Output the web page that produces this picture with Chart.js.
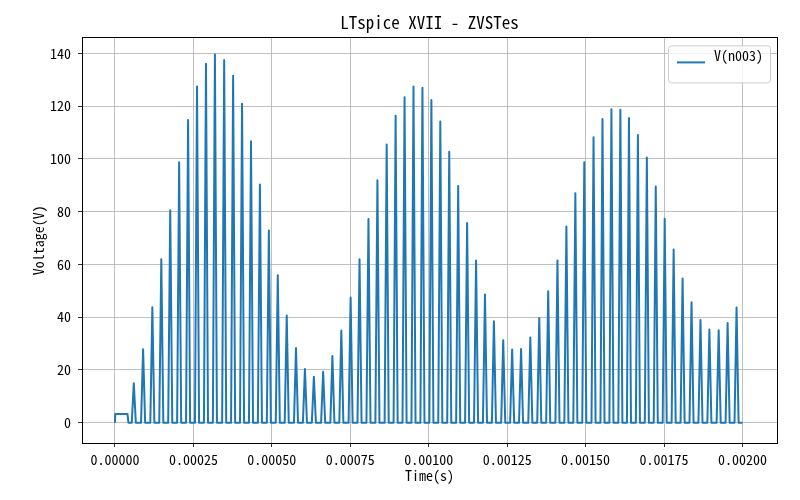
<!DOCTYPE html>
<html>
<head>
<meta charset="utf-8">
<script src="https://cdn.jsdelivr.net/npm/chart.js@4"></script>
<style>
  html, body { margin: 0; padding: 0; background: #ffffff; }
  #wrap { width: 800px; height: 500px; }
</style>
</head>
<body>
<div id="wrap"><canvas id="ltChart" width="800" height="500"></canvas></div>
<script>
// =========================================================================
// 1. DATA
// =========================================================================
const chartTitle = "LTspice XVII - ZVSTes";
const seriesLabel = "V(n003)";

// startup step: level (V) and where it ends (µs)
const stepLevel = 3.3;
const stepEndUs = 40;

// half of the pulse base width, µs
const pulseHalfUs = 6.5;

// time of each pulse peak, µs
const peakTimesUs = [
    60.1, 89.7, 119.2, 147.7, 176.2, 204.6, 233.1, 261.6, 290.1, 318.6, 348.1,
    376.6, 405.1, 433.6, 462.0, 490.5, 519.0, 547.5, 577.0, 605.5, 634.0,
    663.5, 693.0, 721.5, 751.1, 779.5, 808.0, 836.5, 866.0, 894.5, 923.0,
    951.5, 980.0, 1008.5, 1036.9, 1065.4, 1093.9, 1122.4, 1150.9, 1179.3, 1207.8,
    1237.4, 1265.9, 1294.3, 1323.8, 1352.3, 1380.8, 1410.3, 1438.8, 1467.3, 1495.8,
    1525.3, 1553.8, 1582.3, 1610.8, 1638.2, 1666.7, 1695.2, 1723.6, 1752.1, 1780.6,
    1809.1, 1837.6, 1866.1, 1894.5, 1924.1, 1952.6, 1981.1
];

// peak voltage of each pulse, V
const peakVolts = [
    14.9, 27.8, 43.7, 61.9, 80.5, 98.7, 114.7, 127.4, 136.0, 139.5, 137.4,
    131.5, 120.9, 106.6, 90.3, 72.8, 55.9, 40.6, 28.3, 20.3, 17.4,
    19.3, 25.3, 34.9, 47.4, 61.9, 77.2, 91.9, 105.4, 116.3, 123.3,
    127.4, 126.9, 122.3, 114.1, 102.7, 89.7, 75.7, 61.5, 48.6, 38.4,
    31.2, 27.7, 27.9, 32.3, 39.7, 49.8, 61.5, 74.3, 86.9, 98.7,
    108.2, 115.1, 118.8, 118.6, 115.5, 109.0, 100.5, 89.5, 77.3, 65.6,
    54.6, 45.6, 38.9, 35.3, 35.0, 37.8, 43.6
];

const endTimeUs = 2000;

const xTicks = [0, 0.00025, 0.0005, 0.00075, 0.001, 0.00125, 0.0015, 0.00175, 0.002];
const yTicks = [0, 20, 40, 60, 80, 100, 120, 140];

// =========================================================================
// 2. BUILD THE POINT TABLE
// =========================================================================
const us = 1e-6;
const points = [];
points.push({ x: 0, y: 0 });
points.push({ x: 1 * us, y: stepLevel });
points.push({ x: stepEndUs * us, y: stepLevel });
points.push({ x: (stepEndUs + 3) * us, y: 0 });
peakTimesUs.forEach((t, i) => {
    points.push({ x: (t - pulseHalfUs) * us, y: 0 });
    points.push({ x: t * us, y: peakVolts[i] });
    points.push({ x: (t + pulseHalfUs) * us, y: 0 });
});
points.push({ x: endTimeUs * us, y: 0 });

// =========================================================================
// 3. CHART
// =========================================================================
const FONT = "'Noto Sans Mono CJK SC', 'Noto Sans CJK SC', 'DejaVu Sans Mono', monospace";
const LINE_BLUE = '#1f77b4';

// box round the plot area (matplotlib spines)
const frame = {
    id: 'frame',
    afterDatasetsDraw(chart) {
        const a = chart.chartArea, ctx = chart.ctx;
        ctx.save();
        ctx.strokeStyle = '#000';
        ctx.lineWidth = 1;
        ctx.strokeRect(Math.round(a.left) + 0.5, Math.round(a.top) + 0.5,
                       Math.round(a.right - a.left), Math.round(a.bottom - a.top));
        ctx.restore();
    }
};

// matplotlib-style legend in the upper right corner
const mplLegend = {
    id: 'mplLegend',
    afterDraw(chart) {
        const a = chart.chartArea, ctx = chart.ctx;
        const ds = chart.data.datasets[0];
        const w = 102, h = 37;
        const x = a.right - 7 - w, y = a.top + 8;
        ctx.save();
        ctx.beginPath();
        ctx.roundRect(x + 0.5, y + 0.5, w, h, 3);
        ctx.fillStyle = 'rgba(255,255,255,0.8)';
        ctx.fill();
        ctx.strokeStyle = '#cccccc';
        ctx.lineWidth = 1;
        ctx.stroke();
        ctx.beginPath();
        ctx.moveTo(x + 9, y + 17);
        ctx.lineTo(x + 37, y + 17);
        ctx.strokeStyle = ds.borderColor;
        ctx.lineWidth = 2;
        ctx.stroke();
        ctx.fillStyle = '#000';
        ctx.font = '14px ' + FONT;
        ctx.textBaseline = 'middle';
        ctx.textAlign = 'left';
        ctx.fillText(ds.label, x + 46, y + 10);
        ctx.restore();
    }
};

const ctx = document.getElementById('ltChart').getContext('2d');
new Chart(ctx, {
    type: 'line',
    data: {
        datasets: [{
            label: seriesLabel,
            data: points,
            borderColor: LINE_BLUE,
            backgroundColor: LINE_BLUE,
            borderWidth: 2,
            borderJoinStyle: 'round',
            pointRadius: 0,
            tension: 0,
            fill: false
        }]
    },
    options: {
        responsive: false,
        animation: false,
        layout: { padding: { left: 0, right: 23, top: 0, bottom: 0 } },
        plugins: {
            legend: { display: false },
            tooltip: { enabled: false },
            title: {
                display: true,
                text: chartTitle,
                fullSize: false,
                color: '#000',
                font: { family: FONT, size: 17, weight: 'normal', lineHeight: 1.2 },
                padding: { top: 12, bottom: 5 }
            }
        },
        scales: {
            x: {
                type: 'linear',
                min: -0.000105,
                max: 0.00211,
                afterFit: s => { s.height = 57; },
                afterBuildTicks: s => { s.ticks = xTicks.map(v => ({ value: v })); },
                grid: { color: '#b0b0b0', lineWidth: 0.8, tickColor: '#000', tickLength: 4 },
                border: { color: '#000', width: 1 },
                ticks: {
                    color: '#000', padding: 4, maxRotation: 0, autoSkip: false,
                    font: { family: FONT, size: 14 },
                    callback: v => v.toFixed(5)
                },
                title: {
                    display: true, text: 'Time(s)', color: '#000',
                    font: { family: FONT, size: 14 },
                    padding: { top: 0, bottom: 16 }
                }
            },
            y: {
                type: 'linear',
                min: -7.7,
                max: 146,
                afterFit: s => { s.width = 82; },
                afterBuildTicks: s => { s.ticks = yTicks.map(v => ({ value: v })); },
                grid: { color: '#b0b0b0', lineWidth: 0.8, tickColor: '#000', tickLength: 4 },
                border: { color: '#000', width: 1 },
                ticks: {
                    color: '#000', padding: 7,
                    font: { family: FONT, size: 14 },
                    callback: v => String(v)
                },
                title: {
                    display: true, text: 'Voltage(V)', color: '#000',
                    font: { family: FONT, size: 14 },
                    padding: { top: 30, bottom: 0 }
                }
            }
        }
    },
    plugins: [frame, mplLegend]
});
</script>
</body>
</html>
